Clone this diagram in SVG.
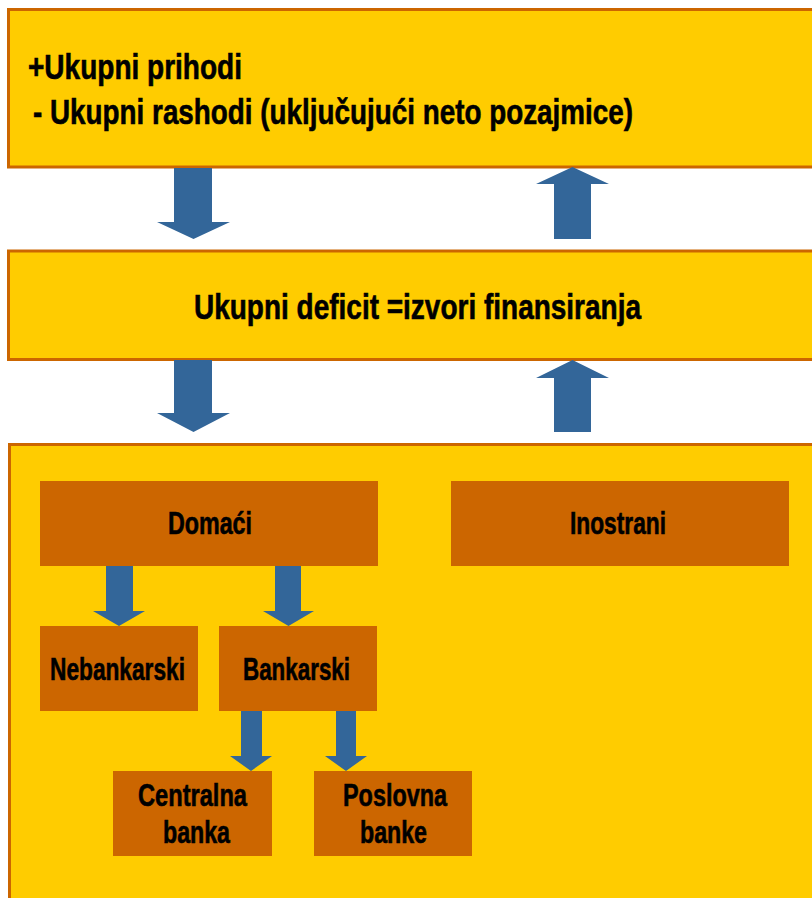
<svg xmlns="http://www.w3.org/2000/svg" width="812" height="898" viewBox="0 0 812 898">
<style>
.big{fill:#FFCC00;stroke:#CC6600;stroke-width:3}
.sub{fill:#CC6600}
.arr{fill:#336699}
.t{font-family:"Liberation Sans",Arial,sans-serif;font-weight:bold;fill:#000;stroke:#000;stroke-width:0.6}
.tl{font-size:35px}
.ts{font-size:31px}
</style>
<rect width="812" height="898" fill="#fff"/>
<g id="top">
<rect class="big" x="8.5" y="9.5" width="820" height="157.5"/>
<text class="t tl" x="28" y="79" textLength="214" lengthAdjust="spacingAndGlyphs">+Ukupni prihodi</text>
<text class="t tl" x="33" y="124" textLength="600" lengthAdjust="spacingAndGlyphs">- Ukupni rashodi (uključujući neto pozajmice)</text>
</g>
<g id="deficit">
<rect class="big" x="8.5" y="251" width="820" height="108.5"/>
<text class="t tl" x="194" y="319" textLength="447" lengthAdjust="spacingAndGlyphs">Ukupni deficit =izvori finansiranja</text>
</g>
<g id="sources">
<rect class="big" x="9.5" y="444.5" width="820" height="470"/>
</g>
<g id="domaci">
<rect class="sub" x="40" y="481" width="338" height="85"/>
<text class="t ts" x="168" y="534" textLength="84" lengthAdjust="spacingAndGlyphs">Domaći</text>
</g>
<g id="inostrani">
<rect class="sub" x="451" y="481" width="338" height="85"/>
<text class="t ts" x="570" y="534" textLength="96" lengthAdjust="spacingAndGlyphs">Inostrani</text>
</g>
<g id="nebankarski">
<rect class="sub" x="40" y="626" width="158" height="85"/>
<text class="t ts" x="50" y="680" textLength="135" lengthAdjust="spacingAndGlyphs">Nebankarski</text>
</g>
<g id="bankarski">
<rect class="sub" x="219" y="626" width="158" height="85"/>
<text class="t ts" x="243" y="680" textLength="107" lengthAdjust="spacingAndGlyphs">Bankarski</text>
</g>
<g id="centralna">
<rect class="sub" x="113" y="771" width="159" height="85"/>
<text class="t ts" x="138" y="806" textLength="109" lengthAdjust="spacingAndGlyphs">Centralna</text>
<text class="t ts" x="163" y="843" textLength="67" lengthAdjust="spacingAndGlyphs">banka</text>
</g>
<g id="poslovna">
<rect class="sub" x="314" y="771" width="158" height="85"/>
<text class="t ts" x="343" y="806" textLength="104" lengthAdjust="spacingAndGlyphs">Poslovna</text>
<text class="t ts" x="360" y="843" textLength="67" lengthAdjust="spacingAndGlyphs">banke</text>
</g>
<g id="connectors">
<polygon class="arr" points="174,168 212,168 212,222 230,222 193.5,239 157,222 174,222"/>
<polygon class="arr" points="572.5,167 609,184 591,184 591,239 554,239 554,184 536,184"/>
<polygon class="arr" points="174,360 212,360 212,413 230,413 193.5,432 157,413 174,413"/>
<polygon class="arr" points="572.5,360 609,378 591,378 591,432 554,432 554,378 536,378"/>
<polygon class="arr" points="106,566 133,566 133,611 145,611 119,626 93,611 106,611"/>
<polygon class="arr" points="275,566 301,566 301,611 314,611 288.5,626 263,611 275,611"/>
<polygon class="arr" points="241,711 262,711 262,756 272,756 251,771 230,756 241,756"/>
<polygon class="arr" points="336,711 356,711 356,756 367,756 346,771 325,756 336,756"/>
</g>
</svg>
